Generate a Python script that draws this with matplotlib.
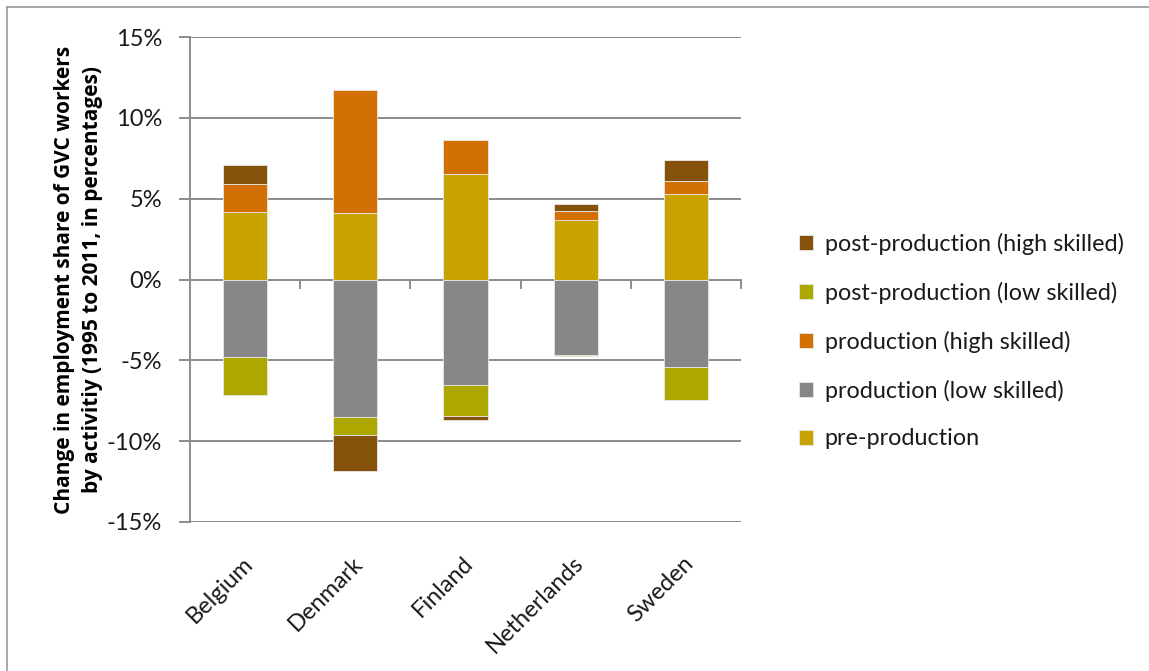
import matplotlib
matplotlib.use("Agg")
import matplotlib.pyplot as plt
import numpy as np
from matplotlib.ticker import FuncFormatter, FixedLocator

countries = ["Belgium", "Denmark", "Finland", "Netherlands", "Sweden"]
pre_production = [4.18, 4.12, 6.54, 3.71, 5.30]
production_low = [-4.77, -8.52, -6.51, -4.64, -5.42]
production_high = [1.74, 7.63, 2.10, 0.50, 0.82]
post_production_low = [-2.38, -1.07, -1.94, -0.12, -2.06]
post_production_high = [1.18, -2.25, -0.27, 0.47, 1.28]

series = [
    ("pre-production", pre_production, "#C9A400"),
    ("production (low skilled)", production_low, "#878787"),
    ("production (high skilled)", production_high, "#D27004"),
    ("post-production (low skilled)", post_production_low, "#ADA800"),
    ("post-production (high skilled)", post_production_high, "#84520A"),
]

plt.rcParams['font.family'] = ['Lato', 'DejaVu Sans']

fig = plt.figure(figsize=(11.49, 6.71), dpi=100)
ax = fig.add_axes([190/1149, 149/671, 551/1149, 485/671])

x = np.arange(len(countries))
pos = np.zeros(len(countries))
neg = np.zeros(len(countries))
handles = {}
for name, vals, col in series:
    v = np.array(vals)
    bottom = np.where(v >= 0, pos, neg)
    h = ax.bar(x, v, bottom=bottom, width=0.4, color=col, label=name,
               edgecolor='#e8e8e8', linewidth=0.6, zorder=3)
    handles[name] = h
    pos = pos + np.where(v >= 0, v, 0)
    neg = neg + np.where(v < 0, v, 0)

ax.set_xlim(-0.5, len(countries) - 0.5)
ax.set_ylim(-15, 15)
ax.yaxis.set_major_locator(FixedLocator([-15, -10, -5, 0, 5, 10, 15]))
ax.yaxis.set_major_formatter(FuncFormatter(lambda v, p: f"{int(v)}%"))
ax.grid(axis='y', color='#8c8c8c', linewidth=1.4, zorder=0)
ax.set_axisbelow(True)
for s in ['top', 'right', 'bottom']:
    ax.spines[s].set_visible(False)
ax.spines['left'].set_color('#8c8c8c')
ax.spines['left'].set_linewidth(1.4)
ax.tick_params(axis='y', length=8, width=1.4, color='#8c8c8c', labelsize=17,
               pad=12, labelcolor='#1a1a1a')
ax.set_xticks(x)
ax.set_xticklabels([])
ax.tick_params(axis='x', length=0)

# zero axis line with category separators
ax.axhline(0, color='#8c8c8c', linewidth=1.4, zorder=2)
for b in np.arange(0.5, len(countries), 1.0):
    ax.plot([b, b], [0, -0.5], color='#8c8c8c', linewidth=1.4, zorder=2,
            clip_on=False)

for i, c in enumerate(countries):
    ax.annotate(c, xy=(i, -15), xycoords='data', xytext=(-2, -22),
                textcoords='offset points', rotation=45, ha='right', va='top',
                rotation_mode='anchor', fontsize=17, color='#1a1a1a')

ax.set_ylabel("Change in employment share of GVC workers\nby activitiy (1995 to 2011, in percentages)",
              fontsize=15, fontweight='bold', labelpad=3, linespacing=1.45,
              family=['Open Sans', 'DejaVu Sans'])

order = ["post-production (high skilled)", "post-production (low skilled)",
         "production (high skilled)", "production (low skilled)", "pre-production"]
leg = fig.legend([handles[n] for n in order], order, loc='center left',
                 bbox_to_anchor=(778/1149, 1 - 341/671), frameon=False,
                 fontsize=16.8, handlelength=0.6, handleheight=0.6,
                 labelspacing=1.15, handletextpad=0.5)
for t in leg.get_texts():
    t.set_color('#1a1a1a')

# outer frame (left and top)
fig.add_artist(plt.Line2D([7/1149, 7/1149], [0, 1 - 7/671], color='#9a9a9a',
                          linewidth=1.2, transform=fig.transFigure))
fig.add_artist(plt.Line2D([7/1149, 1], [1 - 7/671, 1 - 7/671], color='#9a9a9a',
                          linewidth=1.2, transform=fig.transFigure))

fig.savefig("out.png", dpi=100)
